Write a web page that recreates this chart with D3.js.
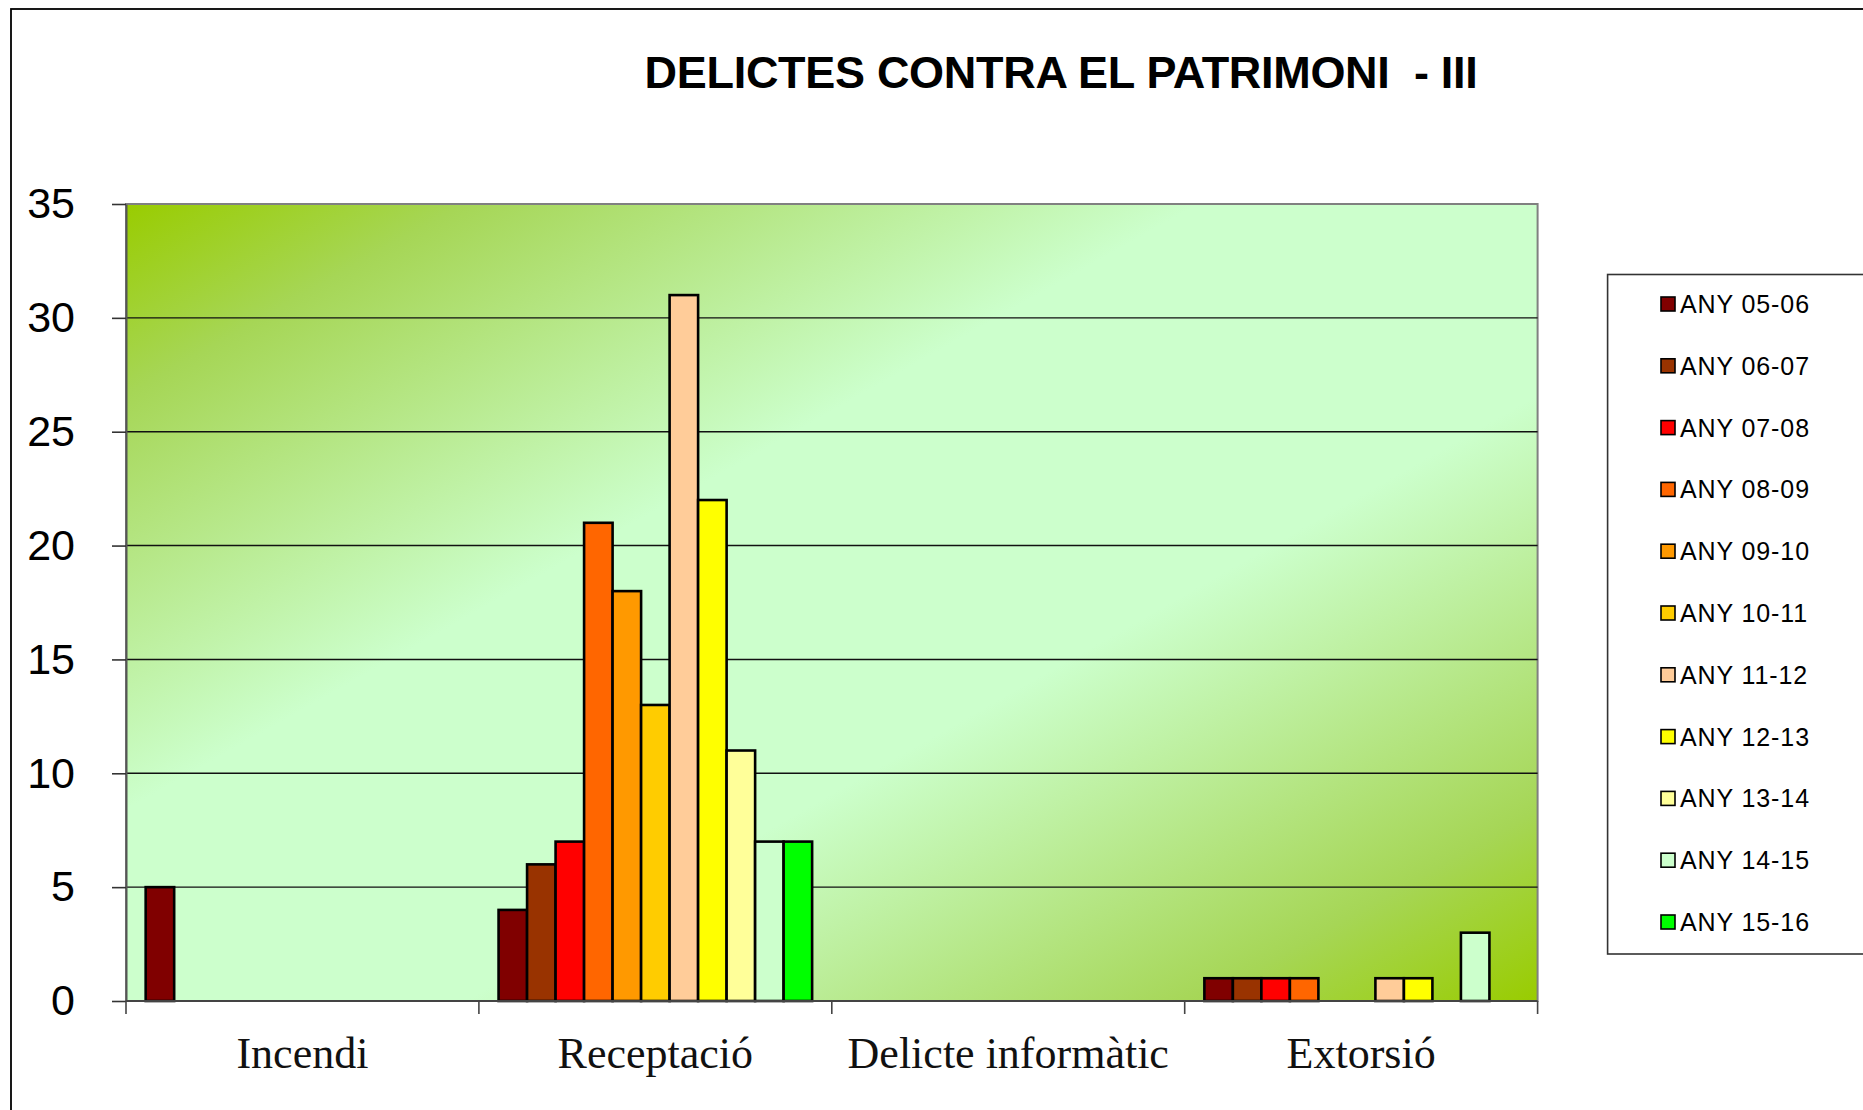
<!DOCTYPE html>
<html>
<head>
<meta charset="utf-8">
<script src="https://cdn.jsdelivr.net/npm/d3@7"></script>
<style>
  html, body { margin: 0; padding: 0; background: #fff; }
  svg { display: block; }
</style>
</head>
<body>
<script>
// ---- DATA ----
const categories = ["Incendi", "Receptació", "Delicte informàtic", "Extorsió"];
const seriesNames = ["ANY 05-06", "ANY 06-07", "ANY 07-08", "ANY 08-09", "ANY 09-10", "ANY 10-11",
                     "ANY 11-12", "ANY 12-13", "ANY 13-14", "ANY 14-15", "ANY 15-16"];
const seriesColors = ["#800000", "#993300", "#FF0000", "#FF6600", "#FF9900", "#FFCC00",
                      "#FFCC99", "#FFFF00", "#FFFF99", "#CCFFCC", "#00FF00"];
// values per category, one entry per series (in seriesNames order)
const valuesIncendi    = [5, 0, 0, 0, 0, 0, 0, 0, 0, 0, 0];
const valuesReceptacio = [4, 6, 7, 21, 18, 13, 31, 22, 11, 7, 7];
const valuesInformatic = [0, 0, 0, 0, 0, 0, 0, 0, 0, 0, 0];
const valuesExtorsio   = [1, 1, 1, 1, 0, 0, 1, 1, 0, 3, 0];
const yTicks = [0, 5, 10, 15, 20, 25, 30, 35];
const titleText = "DELICTES CONTRA EL PATRIMONI  - III";

const table = categories.map((c, i) => ({
  category: c,
  values: [valuesIncendi, valuesReceptacio, valuesInformatic, valuesExtorsio][i]
}));

// ---- LAYOUT ----
const W = 1863, H = 1110;
const plot = { left: 126, right: 1537.6, top: 204, bottom: 1001 };

const svg = d3.select("body").append("svg").attr("width", W).attr("height", H);

// outer chart border
svg.append("rect").attr("x", 11).attr("y", 9).attr("width", W + 20).attr("height", H + 20)
  .attr("fill", "#fff").attr("stroke", "#000").attr("stroke-width", 1.8);

// gradient
const defs = svg.append("defs");
const grad = defs.append("linearGradient").attr("id", "bg")
  .attr("x1", 0).attr("y1", 0).attr("x2", 1).attr("y2", 1);
grad.append("stop").attr("offset", 0).attr("stop-color", "#99CC00");
grad.append("stop").attr("offset", 0.12).attr("stop-color", "#A6D656");
grad.append("stop").attr("offset", 0.38).attr("stop-color", "#CCFFCC");
grad.append("stop").attr("offset", 0.62).attr("stop-color", "#CCFFCC");
grad.append("stop").attr("offset", 0.88).attr("stop-color", "#A6D656");
grad.append("stop").attr("offset", 1).attr("stop-color", "#99CC00");

// title
svg.append("text")
  .attr("x", 1061).attr("y", 88)
  .attr("text-anchor", "middle")
  .attr("font-family", "'Liberation Sans', Arial, sans-serif")
  .attr("font-weight", "bold")
  .attr("font-size", 45)
  .attr("letter-spacing", -0.3)
  .attr("xml:space", "preserve")
  .style("white-space", "pre")
  .text(titleText);

// scales
const x = d3.scaleBand().domain(categories).range([plot.left, plot.right]).paddingInner(0).paddingOuter(0);
const xs = d3.scaleBand().domain(seriesNames).range([0, x.bandwidth()]).paddingInner(0).paddingOuter(0.69);
const y = d3.scaleLinear().domain([0, 35]).range([plot.bottom, plot.top]);
const color = d3.scaleOrdinal().domain(seriesNames).range(seriesColors);

// plot background
svg.append("rect")
  .attr("x", plot.left).attr("y", plot.top)
  .attr("width", plot.right - plot.left).attr("height", plot.bottom - plot.top)
  .attr("fill", "url(#bg)")
  .attr("stroke", "#808080").attr("stroke-width", 2);

// gridlines
svg.append("g").selectAll("line")
  .data(yTicks.filter(t => t > 0 && t < 35))
  .join("line")
  .attr("x1", plot.left).attr("x2", plot.right)
  .attr("y1", d => y(d)).attr("y2", d => y(d))
  .attr("stroke", "#111").attr("stroke-width", 1.4);

// bars
const groups = svg.append("g").selectAll("g")
  .data(table).join("g")
  .attr("transform", d => `translate(${x(d.category)},0)`);
groups.selectAll("rect")
  .data(d => d.values.map((v, i) => ({ name: seriesNames[i], value: v })).filter(e => e.value > 0))
  .join("rect")
  .attr("x", d => xs(d.name))
  .attr("width", xs.bandwidth())
  .attr("y", d => y(d.value))
  .attr("height", d => y(0) - y(d.value))
  .attr("fill", d => color(d.name))
  .attr("stroke", "#000").attr("stroke-width", 2.6);

// y axis
const yAxis = d3.axisLeft(y).tickValues(yTicks).tickSize(14).tickPadding(37).tickSizeOuter(0);
const gy = svg.append("g").attr("transform", `translate(${plot.left},0)`).call(yAxis);
gy.select(".domain").attr("stroke", "#555").attr("stroke-width", 2);
gy.selectAll(".tick line").attr("stroke", "#333").attr("stroke-width", 1.6);
gy.selectAll(".tick text")
  .attr("font-family", "'Liberation Sans', Arial, sans-serif")
  .attr("font-size", 43).attr("fill", "#000");

// x axis: line + boundary ticks
svg.append("line")
  .attr("x1", plot.left).attr("x2", plot.right)
  .attr("y1", plot.bottom).attr("y2", plot.bottom)
  .attr("stroke", "#444").attr("stroke-width", 2);
const boundaries = categories.map(c => x(c)).concat([x(categories[categories.length - 1]) + x.bandwidth()]);
svg.append("g").selectAll("line").data(boundaries).join("line")
  .attr("x1", d => d).attr("x2", d => d)
  .attr("y1", plot.bottom).attr("y2", plot.bottom + 13)
  .attr("stroke", "#444").attr("stroke-width", 1.6);
svg.append("g").selectAll("text").data(categories).join("text")
  .attr("x", d => x(d) + x.bandwidth() / 2)
  .attr("y", 1068)
  .attr("text-anchor", "middle")
  .attr("font-family", "'Liberation Serif', 'Times New Roman', serif")
  .attr("font-size", 44)
  .attr("fill", "#111")
  .text(d => d);

// legend
const lg = svg.append("g");
lg.append("rect").attr("x", 1607.6).attr("y", 274.5).attr("width", 300).attr("height", 679.5)
  .attr("fill", "#fff").attr("stroke", "#333").attr("stroke-width", 1.6);
const items = lg.selectAll("g.item").data(seriesNames).join("g").attr("class", "item")
  .attr("transform", (d, i) => `translate(1661, ${304 + i * 61.8})`);
items.append("rect").attr("x", 0).attr("y", -7).attr("width", 14).attr("height", 14)
  .attr("fill", d => color(d)).attr("stroke", "#000").attr("stroke-width", 1.6);
items.append("text").attr("x", 19).attr("y", 0).attr("dy", "0.36em")
  .attr("font-family", "'Liberation Sans', Arial, sans-serif")
  .attr("font-size", 25).attr("letter-spacing", 0.9).attr("fill", "#000")
  .text(d => d);
</script>
</body>
</html>
